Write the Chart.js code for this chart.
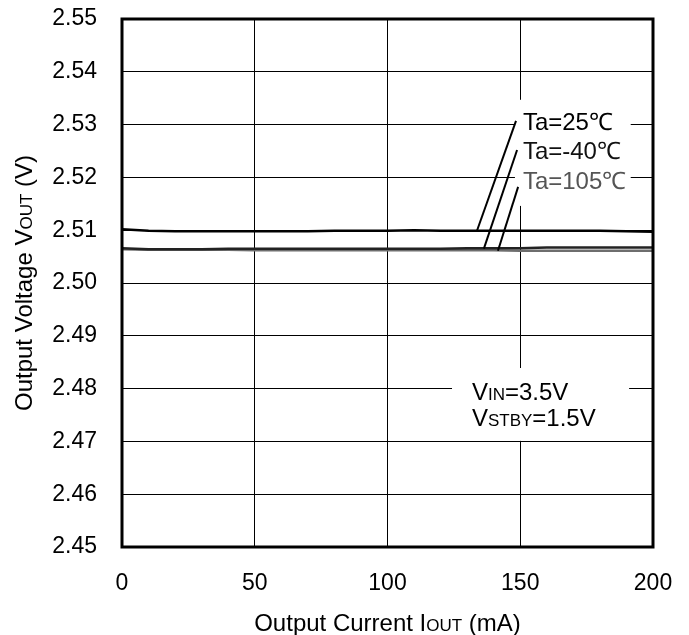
<!DOCTYPE html>
<html>
<head>
<meta charset="utf-8">
<script src="https://cdn.jsdelivr.net/npm/chart.js@4"></script>
<style>
  html, body { margin: 0; padding: 0; background: #fff; }
  #wrap { width: 689px; height: 635px; }
</style>
</head>
<body>
<div id="wrap"><canvas id="myChart" width="689" height="635"></canvas></div>
<script>
// output current (mA), one point every 10 mA
const current = [0, 10, 20, 30, 40, 50, 60, 70, 80, 90, 100, 110, 120, 130, 140, 150, 160, 170, 180, 190, 200];

// output voltage (V) per temperature
const vout25 = [2.5102, 2.5099, 2.5098, 2.5098, 2.5098, 2.5098, 2.5098, 2.5098, 2.5099, 2.5099, 2.5099,
                2.5100, 2.5099, 2.5099, 2.5099, 2.5099, 2.5099, 2.5099, 2.5099, 2.5098, 2.5097];
const voutM40 = [2.5066, 2.5064, 2.5064, 2.5064, 2.5065, 2.5065, 2.5065, 2.5065, 2.5065, 2.5065, 2.5065,
                 2.5065, 2.5065, 2.5066, 2.5066, 2.5066, 2.5067, 2.5067, 2.5067, 2.5067, 2.5067];
const vout105 = [2.5064, 2.5063, 2.5063, 2.5063, 2.5063, 2.5062, 2.5062, 2.5062, 2.5062, 2.5062, 2.5062,
                 2.5062, 2.5062, 2.5062, 2.5062, 2.5061, 2.5061, 2.5061, 2.5061, 2.5061, 2.5061];

const xTicks = [0, 50, 100, 150, 200];
const yTicks = [2.45, 2.46, 2.47, 2.48, 2.49, 2.50, 2.51, 2.52, 2.53, 2.54, 2.55];

const FONT = '"Liberation Sans", Arial, sans-serif';

const toPoints = (ys) => current.map((x, i) => ({ x: x, y: ys[i] }));

// labels with leader lines, in data units
const notes = [
    { text: 'Ta=25℃', x: 151, y: 2.5303, color: '#000', lead: [148.4, 2.5307, 133.7, 2.5099] },
    { text: 'Ta=-40℃', x: 151, y: 2.5248, color: '#111', lead: [148.8, 2.5252, 136.3, 2.5065] },
    { text: 'Ta=105℃', x: 151, y: 2.5191, color: '#555', lead: [149.2, 2.5182, 141.6, 2.5061] }
];
// white boxes behind the text blocks [x1, y1, x2, y2]
const boxes = [
    [148, 2.5347, 191.6, 2.5146],
    [124.3, 2.4839, 191, 2.4701]
];

// draw text made of runs with different sizes (for subscripts like VOUT)
const drawRuns = (ctx, runs, x, y, align) => {
    let total = 0;
    runs.forEach(r => { ctx.font = r[1] + 'px ' + FONT; total += ctx.measureText(r[0]).width; });
    let cx = align === 'center' ? x - total / 2 : x;
    ctx.textBaseline = 'alphabetic';
    ctx.textAlign = 'left';
    runs.forEach(r => {
        ctx.font = r[1] + 'px ' + FONT;
        ctx.fillText(r[0], cx, y);
        cx += ctx.measureText(r[0]).width;
    });
};

// drop the label overflow padding so the plot area sits where the layout padding puts it
const noPad = (s) => { s.paddingTop = 0; s.paddingBottom = 0; s.paddingLeft = 0; s.paddingRight = 0; };

const extras = {
    id: 'extras',
    beforeDatasetsDraw(chart) {
        const ctx = chart.ctx, xs = chart.scales.x, ys = chart.scales.y;
        ctx.save();
        ctx.fillStyle = '#fff';
        boxes.forEach(b => {
            const x1 = xs.getPixelForValue(b[0]), x2 = xs.getPixelForValue(b[2]);
            const y1 = ys.getPixelForValue(b[1]), y2 = ys.getPixelForValue(b[3]);
            ctx.fillRect(x1, y1, x2 - x1, y2 - y1);
        });
        ctx.restore();
    },
    afterDatasetsDraw(chart) {
        const ctx = chart.ctx, xs = chart.scales.x, ys = chart.scales.y;
        const a = chart.chartArea;
        ctx.save();
        // leader lines + labels
        notes.forEach(n => {
            ctx.strokeStyle = '#000';
            ctx.lineWidth = 2;
            ctx.beginPath();
            ctx.moveTo(xs.getPixelForValue(n.lead[0]), ys.getPixelForValue(n.lead[1]));
            ctx.lineTo(xs.getPixelForValue(n.lead[2]), ys.getPixelForValue(n.lead[3]));
            ctx.stroke();
            ctx.fillStyle = n.color;
            ctx.font = '24px ' + FONT;
            ctx.textAlign = 'left';
            ctx.textBaseline = 'middle';
            ctx.fillText(n.text, xs.getPixelForValue(n.x), ys.getPixelForValue(n.y));
        });
        // condition text
        ctx.fillStyle = '#000';
        const cx = xs.getPixelForValue(131.8);
        drawRuns(ctx, [['V', 24], ['IN', 17], ['=3.5V', 24]], cx, ys.getPixelForValue(2.4795) + 9, 'left');
        drawRuns(ctx, [['V', 24], ['STBY', 17], ['=1.5V', 24]], cx, ys.getPixelForValue(2.4746) + 9, 'left');

        // frame
        ctx.strokeStyle = '#000';
        ctx.lineWidth = 3;
        ctx.strokeRect(a.left, a.top, a.right - a.left, a.bottom - a.top);

        // axis titles
        ctx.fillStyle = '#000';
        drawRuns(ctx, [['Output Current I', 24], ['OUT', 17], [' (mA)', 24]], (a.left + a.right) / 2, 631, 'center');
        ctx.translate(32, (a.top + a.bottom) / 2);
        ctx.rotate(-Math.PI / 2);
        drawRuns(ctx, [['Output Voltage V', 24], ['OUT', 17], [' (V)', 24]], 0, 0, 'center');
        ctx.restore();
    }
};

let myChart;
const displayGraph = () => {
    const ctx = document.getElementById('myChart');
    myChart = new Chart(ctx, {
        type: 'line',
        data: {
            datasets: [
                { label: 'Ta=25℃', data: toPoints(vout25), borderColor: '#000', borderWidth: 2.5 },
                { label: 'Ta=-40℃', data: toPoints(voutM40), borderColor: '#222', borderWidth: 2.5 },
                { label: 'Ta=105℃', data: toPoints(vout105), borderColor: '#6e6e6e', borderWidth: 2.5 }
            ]
        },
        options: {
            responsive: false,
            animation: false,
            elements: { point: { radius: 0 }, line: { tension: 0 } },
            layout: { padding: { top: 19, right: 36, left: 0, bottom: 0 } },
            plugins: { legend: { display: false }, tooltip: { enabled: false } },
            scales: {
                x: {
                    type: 'linear', min: 0, max: 200,
                    afterBuildTicks: (s) => { s.ticks = xTicks.map(v => ({ value: v })); },
                    afterFit: (s) => { s.height = 88; noPad(s); },
                    grid: { color: '#000', lineWidth: 1, drawTicks: false },
                    border: { display: false },
                    ticks: { color: '#000', padding: 23, font: { family: FONT, size: 23 } }
                },
                y: {
                    type: 'linear', min: 2.45, max: 2.55,
                    afterBuildTicks: (s) => { s.ticks = yTicks.map(v => ({ value: v })); },
                    afterFit: (s) => { s.width = 122; noPad(s); },
                    grid: { color: '#000', lineWidth: 1, drawTicks: false },
                    border: { display: false },
                    ticks: {
                        color: '#000', padding: 25, font: { family: FONT, size: 23 },
                        callback: (v) => v.toFixed(2)
                    }
                }
            }
        },
        plugins: [extras]
    });
};

displayGraph();
</script>
</body>
</html>
